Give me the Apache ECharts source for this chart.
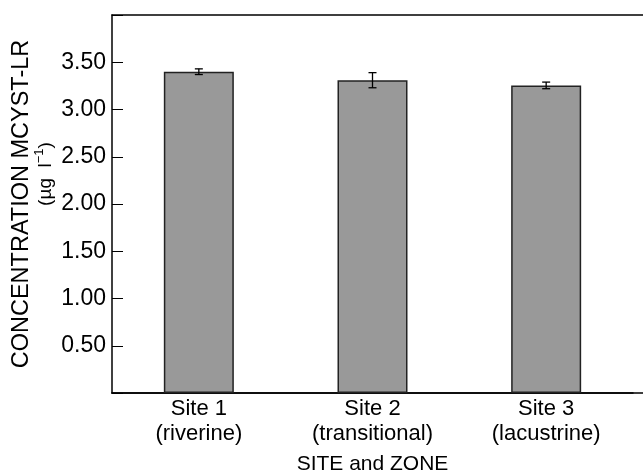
<!DOCTYPE html>
<html lang="en">
<head>
    <meta charset="UTF-8">
    <title>MCYST-LR by site</title>
    <script src="https://cdn.jsdelivr.net/npm/echarts@6/dist/echarts.min.js"></script>
</head>
<body style="margin:0">
<div id="main" style="width:643px;height:472px"></div>
<script>
    // data
    var sites = ['Site 1\n(riverine)', 'Site 2\n(transitional)', 'Site 3\n(lacustrine)'];
    var means = [3.40, 3.31, 3.255];
    var errs = [0.03, 0.08, 0.035];
    var yTicks = [0.5, 1.0, 1.5, 2.0, 2.5, 3.0, 3.5];

    var font = '"Liberation Sans", Arial, sans-serif';
    var chart = echarts.init(document.getElementById('main'));

    var errData = means.map(function (m, i) { return [i, m - errs[i], m + errs[i]]; });

    // bare frame line (top and bottom run to the page edge in the figure)
    function frameAxis(pos) {
        return {
            type: 'value',
            gridIndex: 1,
            position: pos,
            axisLine: { show: true, onZero: false, lineStyle: { color: '#000', width: 1.5 } },
            axisTick: { show: false },
            axisLabel: { show: false },
            splitLine: { show: false }
        };
    }

    var option = {
        animation: false,
        grid: [
            { left: 112, top: 15, bottom: 79, width: 521, outerBoundsMode: 'none' },
            { left: 112, top: 15, bottom: 79, right: 0, outerBoundsMode: 'none' }
        ],
        xAxis: [{
            type: 'category',
            data: sites,
            gridIndex: 0,
            axisLine: { lineStyle: { color: '#000', width: 1.5 } },
            axisTick: { inside: true, length: 8, lineStyle: { color: '#000', width: 1 } },
            axisLabel: { color: '#000', fontSize: 22, lineHeight: 25, fontFamily: font, margin: 3 },
            name: 'SITE and ZONE',
            nameLocation: 'middle',
            nameGap: 61,
            nameMoveOverlap: false,
            nameTextStyle: { color: '#000', fontSize: 21, fontFamily: font }
        }, frameAxis('top'), frameAxis('bottom')],
        yAxis: [{
            type: 'value',
            gridIndex: 0,
            min: 0,
            max: 4,
            interval: 0.5,
            axisLine: { show: true, lineStyle: { color: '#000', width: 1.5 } },
            axisTick: { show: true, inside: true, length: 11, lineStyle: { color: '#000', width: 1 } },
            splitLine: { show: false },
            axisLabel: {
                color: '#000', fontSize: 23, fontFamily: font, margin: 6,
                formatter: function (v) {
                    return yTicks.indexOf(v) >= 0 ? v.toFixed(2) : '';
                }
            },
            name: '{a|CONCENTRATION MCYST-LR}\n{p|(µg  l}{s|−1}{b|)}',
            nameLocation: 'middle',
            nameGap: 53,
            nameMoveOverlap: false,
            nameTextStyle: {
                color: '#000',
                fontFamily: font,
                rich: {
                    a: { fontSize: 23.5, lineHeight: 22, fontFamily: font, color: '#000' },
                    p: { fontSize: 19, lineHeight: 26, fontFamily: font, color: '#000', padding: [0, 0, 0, 60] },
                    b: { fontSize: 19, lineHeight: 26, fontFamily: font, color: '#000' },
                    s: { fontSize: 13, lineHeight: 26, fontFamily: font, color: '#000', verticalAlign: 'top' }
                }
            }
        }, {
            type: 'value',
            gridIndex: 1,
            show: false
        }],
        series: [{
            type: 'bar',
            xAxisIndex: 0,
            yAxisIndex: 0,
            data: means,
            barWidth: 70,
            itemStyle: { color: '#999999', borderColor: '#222', borderWidth: 1.5 }
        }, {
            type: 'custom',
            xAxisIndex: 0,
            yAxisIndex: 0,
            data: errData,
            z: 5,
            renderItem: function (params, api) {
                var x = api.value(0);
                var lo = api.coord([x, api.value(1)]);
                var hi = api.coord([x, api.value(2)]);
                var w = 4;
                var st = { stroke: '#000', lineWidth: 1.3 };
                return {
                    type: 'group',
                    children: [
                        { type: 'line', shape: { x1: hi[0], y1: hi[1], x2: lo[0], y2: lo[1] }, style: st },
                        { type: 'line', shape: { x1: hi[0] - w, y1: hi[1], x2: hi[0] + w, y2: hi[1] }, style: st },
                        { type: 'line', shape: { x1: lo[0] - w, y1: lo[1], x2: lo[0] + w, y2: lo[1] }, style: st }
                    ]
                };
            }
        }]
    };
    chart.setOption(option);
</script>
</body>
</html>
